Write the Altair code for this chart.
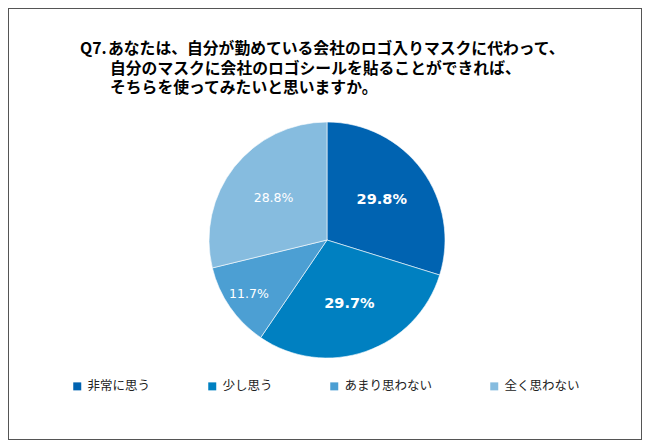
import altair as alt
import pandas as pd

categories = ["非常に思う", "少し思う", "あまり思わない", "全く思わない"]
values = [29.8, 29.7, 11.7, 28.8]
labels = ["29.8%", "29.7%", "11.7%", "28.8%"]
colors = ["#0063B1", "#0080C1", "#4C9FD3", "#86BCDF"]
title_prefix = "Q7."
title_lines = [
    "あなたは、自分が勤めている会社のロゴ入りマスクに代わって、",
    "自分のマスクに会社のロゴシールを貼ることができれば、",
    "そちらを使ってみたいと思いますか。",
]

df = pd.DataFrame({
    "category": categories,
    "value": values,
    "label": labels,
    "idx": list(range(len(categories))),
})

CX, CY, R = 319, 232, 118
JP = "Noto Sans CJK JP"

base = alt.Chart(df)

arc = base.mark_arc(outerRadius=R, stroke="#ffffff", strokeWidth=0.6).encode(
    theta=alt.Theta("value:Q", stack=True),
    color=alt.Color(
        "category:N",
        sort=categories,
        scale=alt.Scale(domain=categories, range=colors),
        legend=alt.Legend(
            title=None,
            orient="none",
            legendX=63,
            legendY=372,
            direction="horizontal",
            columns=4,
            columnPadding=55,
            symbolType="square",
            symbolSize=64,
            symbolStrokeWidth=0,
            labelFont=JP,
            labelFontSize=12.5,
            labelColor="#222222",
            labelOffset=4,
            padding=0,
        ),
    ),
    order=alt.Order("idx:Q"),
    x=alt.value(CX),
    y=alt.value(CY),
)

txt = base.transform_window(
    cum="sum(value)", sort=[alt.SortField("idx")], frame=[None, 0]
).transform_joinaggregate(
    total="sum(value)"
).transform_calculate(
    mid="(datum.cum - datum.value / 2) / datum.total",
    r="datum.value < 15 ? 95 : 68",
)

theta_mid = alt.Theta("mid:Q", scale=alt.Scale(domain=[0, 1], range=[0, 6.283185307]))

big = txt.transform_filter("datum.idx < 2").mark_text(
    color="white", font="DejaVu Sans", fontSize=14.5, fontWeight="bold"
).encode(
    theta=theta_mid,
    radius=alt.Radius("r:Q", scale=None),
    text="label:N",
    x=alt.value(CX),
    y=alt.value(CY),
)

small = txt.transform_filter("datum.idx >= 2").mark_text(
    color="white", font="DejaVu Sans", fontSize=12.5
).encode(
    theta=theta_mid,
    radius=alt.Radius("r:Q", scale=None),
    text="label:N",
    x=alt.value(CX),
    y=alt.value(CY),
)

labels_layer = alt.layer(big, small)

one = alt.Chart(pd.DataFrame({"a": [0]}))
title_style = dict(font=JP, fontSize=15.8, fontWeight="bold", align="left",
                   baseline="middle", color="#000000")
t_prefix = one.mark_text(**title_style).encode(
    x=alt.value(72), y=alt.value(41), text=alt.value(title_prefix))
t_line_layers = [
    one.mark_text(**title_style).encode(
        x=alt.value(100 if i == 0 else 102), y=alt.value(41 + 19.5 * i), text=alt.value(line))
    for i, line in enumerate(title_lines)
]

chart = alt.layer(arc, labels_layer, t_prefix, *t_line_layers).resolve_scale(
    theta="independent"
).properties(
    width=634, height=432, padding=0,
    autosize=alt.AutoSizeParams(type="none"),
).configure_view(stroke="#555555", strokeWidth=2)

chart.save("out.html", embed_options={"renderer": "svg", "actions": False})
